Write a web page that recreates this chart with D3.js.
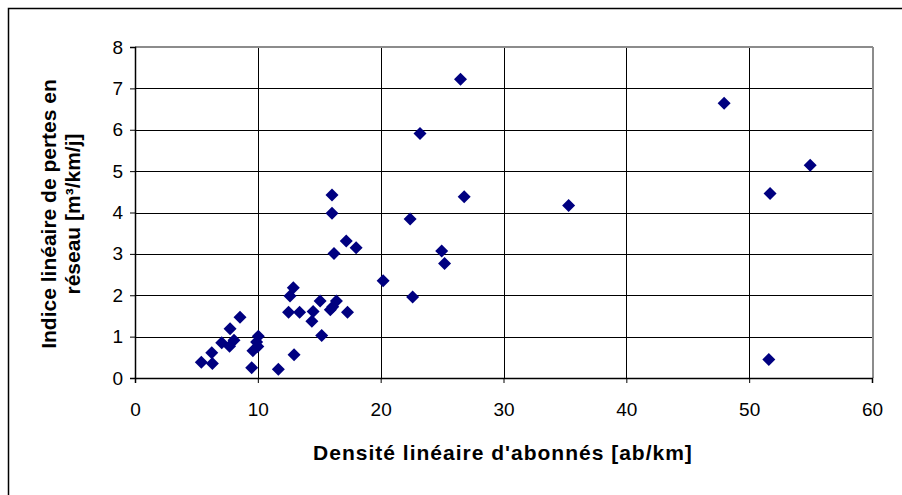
<!DOCTYPE html>
<html><head><meta charset="utf-8">
<script src="https://cdn.jsdelivr.net/npm/d3@7"></script>
<style>body{margin:0;background:#fff;}svg{display:block;}</style>
</head><body>
<script>
const xValues = [5.4,6.3,6.25,7.06,7.7,8.06,7.74,8.55,9.5,9.6,9.9,10.04,10.0,11.67,12.95,12.5,12.62,12.89,13.4,14.4,14.5,15.07,15.2,15.9,16.1,16.4,17.3,16.04,16.04,16.2,17.2,18.0,20.2,22.4,22.6,23.2,24.97,25.2,26.5,26.8,35.3,47.96,51.6,51.7,54.97];
const yValues = [0.38,0.35,0.61,0.85,0.77,0.91,1.19,1.47,0.25,0.66,0.87,1.01,0.76,0.21,0.56,1.59,1.98,2.18,1.59,1.37,1.61,1.86,1.03,1.65,1.72,1.86,1.59,4.42,3.98,3.01,3.31,3.15,2.35,3.84,1.96,5.91,3.07,2.77,7.22,4.38,4.17,6.64,0.45,4.46,5.14];
const xTicks = [0,10,20,30,40,50,60];
const yTicks = [0,1,2,3,4,5,6,7,8];
const xTitle = "Densité linéaire d'abonnés [ab/km]";
const yTitleLines = ["Indice linéaire de pertes en", "réseau [m³/km/j]"];

const W = 902, H = 495;
const svg = d3.select("body").append("svg").attr("width", W).attr("height", H);
const L = 135, R = 872, T = 47, B = 378;
const x = d3.scaleLinear().domain([0,60]).range([L,R]);
const y = d3.scaleLinear().domain([0,8]).range([B,T]);
const font = "Arial, 'Liberation Sans', sans-serif";

// outer frame
svg.append("rect").attr("x",8.5).attr("y",8.5).attr("width",900).attr("height",500)
  .attr("fill","none").attr("stroke","#000").attr("stroke-width",1.5);

// gridlines
svg.append("g").selectAll("line").data(yTicks.filter(d=>d>0 && d<8)).join("line")
  .attr("x1",L).attr("x2",R).attr("y1",d=>Math.round(y(d))+0.5).attr("y2",d=>Math.round(y(d))+0.5)
  .attr("stroke","#000").attr("stroke-width",1);
svg.append("g").selectAll("line").data(xTicks.filter(d=>d>0 && d<60)).join("line")
  .attr("y1",T).attr("y2",B).attr("x1",d=>Math.round(x(d))+0.5).attr("x2",d=>Math.round(x(d))+0.5)
  .attr("stroke","#000").attr("stroke-width",1);

// plot border top/right (gray)
svg.append("line").attr("x1",L).attr("x2",R+1).attr("y1",T).attr("y2",T).attr("stroke","#8c8c8c").attr("stroke-width",2);
svg.append("line").attr("x1",R+1).attr("x2",R+1).attr("y1",T).attr("y2",B).attr("stroke","#8c8c8c").attr("stroke-width",2);

// axes
const xAxis = d3.axisBottom(x).tickValues(xTicks).tickSize(5).tickPadding(20);
const gx = svg.append("g").attr("transform",`translate(0,${B})`).call(xAxis);
gx.select(".domain").attr("stroke","#000").attr("stroke-width",1.5);
gx.selectAll(".tick line").attr("stroke","#000");
gx.selectAll("text").attr("font-family",font).attr("font-size",19).attr("fill","#000");

const yAxis = d3.axisLeft(y).tickValues(yTicks).tickSize(5).tickPadding(7);
const gy = svg.append("g").attr("transform",`translate(${L},0)`).call(yAxis);
gy.select(".domain").attr("stroke","#000").attr("stroke-width",1.5);
gy.selectAll(".tick line").attr("stroke","#000");
gy.selectAll("text").attr("font-family",font).attr("font-size",19).attr("fill","#000");

// points
const diamond = "M0,-6.5L6.5,0L0,6.5L-6.5,0Z";
svg.append("g").selectAll("path").data(xValues.map((v,i)=>[v,yValues[i]])).join("path")
  .attr("d",diamond).attr("transform",d=>`translate(${x(d[0])},${y(d[1])})`)
  .attr("fill","#000080");

// titles
svg.append("text").attr("x",503).attr("y",460).attr("text-anchor","middle")
  .attr("font-family",font).attr("font-weight","bold").attr("font-size",21)
  .attr("letter-spacing",1).attr("fill","#000").text(xTitle);
const yt = svg.append("text").attr("transform","translate(56,214) rotate(-90)").attr("text-anchor","middle")
  .attr("font-family",font).attr("font-weight","bold").attr("font-size",21).attr("fill","#000");
yTitleLines.forEach((t,i)=>yt.append("tspan").attr("x",0).attr("dy",i?24:0).text(t));
</script>
</body></html>
